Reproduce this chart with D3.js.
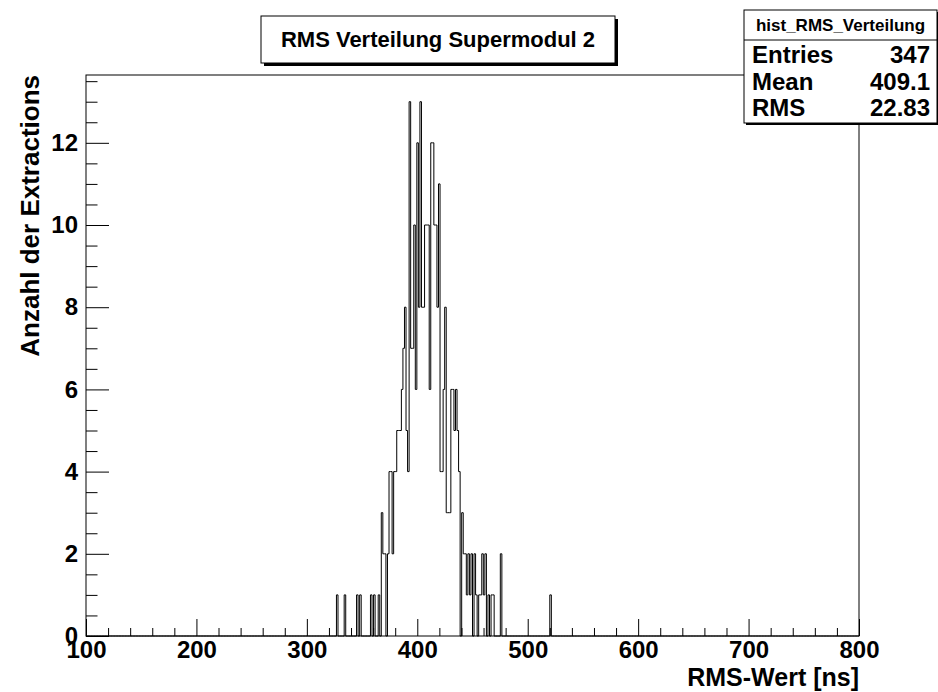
<!DOCTYPE html>
<html>
<head>
<meta charset="utf-8">
<script src="https://cdn.jsdelivr.net/npm/d3@7"></script>
<style>
  body { margin: 0; background: #fff; }
  svg text { font-family: "Liberation Sans", Arial, Helvetica, sans-serif; font-weight: bold; }
</style>
</head>
<body>
<div id="cont"></div>
<script>
// Histogram data: 500 bins from 100 to 800
var xRange = [100, 800];
var nBins = 500;
var firstBin = 162;               // bin index of counts[0]
var counts = [
  1,0,0,0,0, 1,0,0,0,0, 0,0,0,1,0, 1,0,0,0,0,   // 162-181
  0,0,1,0,1, 0,0,1,0,3, 2,2,0,2,4, 4,2,4,4,5,   // 182-201
  5,5,6,7,8, 5,4,13,7,7, 10,6,12,8,13, 8,8,10,10,10, // 202-221
  6,12,12,10,10, 8,11,4,4,6, 8,3,3,3,6, 6,5,6,5,4,   // 222-241
  0,3,2,2,1, 2,1,2,0,2, 1,0,1,1,2, 1,2,0,1,0,   // 242-261
  1,1,0,0,0, 0,2,0,0,0, 0,0,0,0,0, 0,0,0,0,0,   // 262-281
  0,0,0,0,0, 0,0,0,0,0, 0,0,0,0,0, 0,0,0,1      // 282-300
];
var xMajor = [100, 200, 300, 400, 500, 600, 700, 800];
var yMajor = [0, 2, 4, 6, 8, 10, 12];
var yMax = 13.65;

var title = "RMS Verteilung Supermodul 2";
var statsName = "hist_RMS_Verteilung";
var statsLabels = ["Entries", "Mean", "RMS"];
var statsValues = ["347", "409.1", "22.83"];
var xTitle = "RMS-Wert [ns]";
var yTitle = "Anzahl der Extractions";

// Layout (frame edges)
var W = 938, H = 692;
var fLeft = 86, fRight = 859, fTop = 75, fBottom = 636;

var svg = d3.select("#cont").append("svg")
    .attr("width", W)
    .attr("height", H);

svg.append("rect").attr("width", W).attr("height", H).attr("fill", "#fff");

var x = d3.scaleLinear().domain(xRange).range([fLeft, fRight]);
var y = d3.scaleLinear().domain([0, yMax]).range([fBottom, fTop]);

// full bin list
var binWidth = (xRange[1] - xRange[0]) / nBins;
var bins = d3.range(nBins).map(function(i) {
    var k = i - firstBin;
    var c = (k >= 0 && k < counts.length) ? counts[k] : 0;
    return { x: xRange[0] + i * binWidth, y: c };
});
bins.push({ x: xRange[1], y: bins[bins.length - 1].y });

var histLine = d3.line()
    .x(function(d) { return x(d.x); })
    .y(function(d) { return y(d.y); })
    .curve(d3.curveStepAfter);

svg.append("path")
    .attr("d", histLine(bins))
    .attr("fill", "none")
    .attr("stroke", "#000")
    .attr("stroke-width", 1);

// x axis: minor then major
var xMinor = d3.range(100, 801, 20).filter(function(v) { return v % 100 !== 0; });
svg.append("g")
    .attr("transform", "translate(0," + fBottom + ")")
    .call(d3.axisBottom(x).tickValues(xMinor).tickSize(-8).tickFormat(""))
    .call(function(g) { g.select(".domain").remove(); });

svg.append("g")
    .attr("transform", "translate(0," + fBottom + ")")
    .call(d3.axisBottom(x).tickValues(xMajor).tickSize(-17).tickPadding(5).tickFormat(d3.format("d")))
    .call(function(g) {
        g.select(".domain").remove();
        g.selectAll("text").attr("font-size", 24).attr("fill", "#000");
    });

// y axis
var yMinor = d3.range(0, 13.6, 0.5).filter(function(v) { return v % 2 !== 0; });
svg.append("g")
    .attr("transform", "translate(" + fLeft + ",0)")
    .call(d3.axisLeft(y).tickValues(yMinor).tickSize(-11.5).tickFormat(""))
    .call(function(g) { g.select(".domain").remove(); });

svg.append("g")
    .attr("transform", "translate(" + fLeft + ",0)")
    .call(d3.axisLeft(y).tickValues(yMajor).tickSize(-23).tickPadding(8).tickFormat(d3.format("d")))
    .call(function(g) {
        g.select(".domain").remove();
        g.selectAll("text").attr("font-size", 24).attr("fill", "#000");
    });

// frame
svg.append("rect")
    .attr("x", fLeft).attr("y", fTop)
    .attr("width", fRight - fLeft).attr("height", fBottom - fTop)
    .attr("fill", "none").attr("stroke", "#000").attr("stroke-width", 1);

// axis titles
svg.append("text")
    .attr("x", fRight).attr("y", 686)
    .attr("text-anchor", "end")
    .attr("font-size", 25)
    .text(xTitle);

svg.append("text")
    .attr("transform", "translate(39," + fTop + ") rotate(-90)")
    .attr("text-anchor", "end")
    .attr("font-size", 26)
    .text(yTitle);

// title box with shadow
var tb = { x: 261, y: 16, w: 354, h: 47 };
svg.append("rect").attr("x", tb.x + 3).attr("y", tb.y + 3).attr("width", tb.w).attr("height", tb.h).attr("fill", "#000");
svg.append("rect").attr("x", tb.x).attr("y", tb.y).attr("width", tb.w).attr("height", tb.h)
    .attr("fill", "#fff").attr("stroke", "#000").attr("stroke-width", 1);
svg.append("text")
    .attr("x", tb.x + tb.w / 2).attr("y", tb.y + 31)
    .attr("text-anchor", "middle")
    .attr("font-size", 22)
    .text(title);

// stats box
var sb = { x: 744, y: 10, w: 193, h: 113 };
svg.append("rect").attr("x", sb.x + 2).attr("y", sb.y + 2).attr("width", sb.w).attr("height", sb.h).attr("fill", "#000");
svg.append("rect").attr("x", sb.x).attr("y", sb.y).attr("width", sb.w).attr("height", sb.h)
    .attr("fill", "#fff").attr("stroke", "#000").attr("stroke-width", 1);
svg.append("line")
    .attr("x1", sb.x).attr("x2", sb.x + sb.w)
    .attr("y1", sb.y + 30).attr("y2", sb.y + 30)
    .attr("stroke", "#000");
svg.append("text")
    .attr("x", sb.x + sb.w / 2).attr("y", sb.y + 21)
    .attr("text-anchor", "middle")
    .attr("font-size", 17)
    .text(statsName);

var rowY = d3.scalePoint().domain(statsLabels).range([sb.y + 53, sb.y + 106]);
statsLabels.forEach(function(lab, i) {
    svg.append("text").attr("x", sb.x + 8).attr("y", rowY(lab))
        .attr("font-size", 24).text(lab);
    svg.append("text").attr("x", sb.x + sb.w - 7).attr("y", rowY(lab))
        .attr("text-anchor", "end").attr("font-size", 24).text(statsValues[i]);
});
</script>
</body>
</html>
